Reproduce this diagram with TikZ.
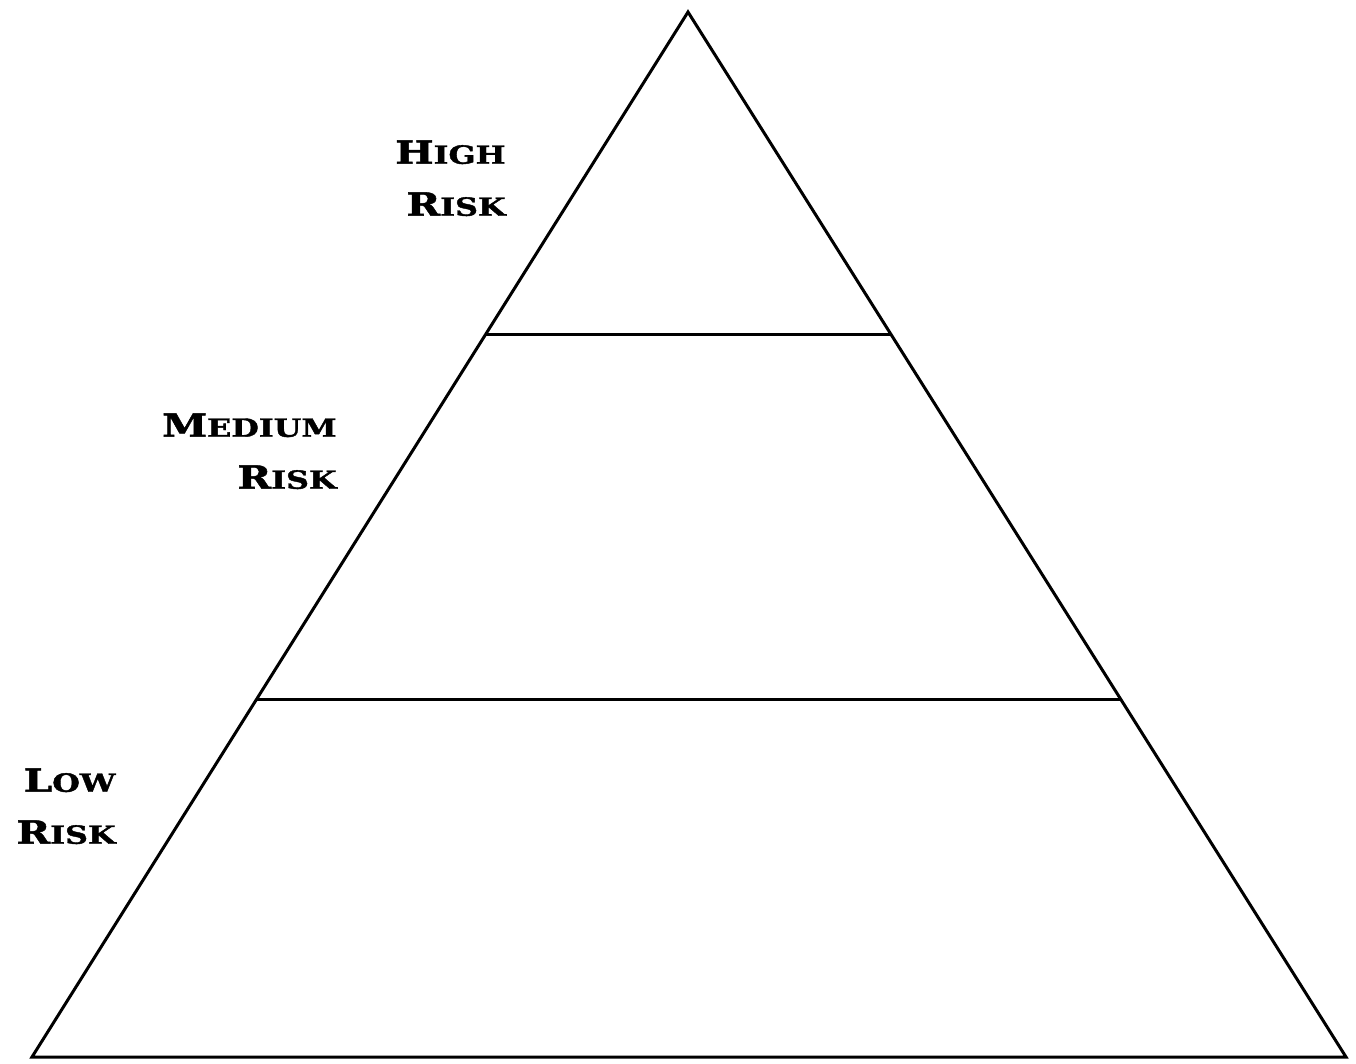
\documentclass[tikz,border=0pt]{standalone}
\usepackage{fontspec}
\usetikzlibrary{calc}
\newfontfamily\riskfont{DejaVu Serif}[FakeStretch=1.27, BoldFeatures={FakeBold=1.6}]
\newcommand{\capword}[2]{{\fontsize{16}{26}\selectfont #1}{\fontsize{12.5}{26}\selectfont #2}}
\tikzset{
  tier/.style={line width=1.5pt},
  risklabel/.style={font=\riskfont\bfseries\fontsize{16}{26}\selectfont, align=right, anchor=north east, inner sep=0pt}
}
\begin{document}
\begin{tikzpicture}[x=0.5pt,y=-0.5pt]

% Frame
\useasboundingbox (0,0) rectangle (1356,1064);

% Pyramid
\coordinate (apex) at (688,12);
\coordinate (bl) at (32,1057);
\coordinate (br) at (1346,1057);
\draw[tier] (apex) -- (bl) -- (br) -- cycle;

% Tier borders
\draw[tier] ($(apex)!0.309!(bl)$) -- ($(apex)!0.309!(br)$);
\draw[tier] ($(apex)!0.658!(bl)$) -- ($(apex)!0.658!(br)$);

% Labels
\node[risklabel] (high) at (506,140) {\capword{H}{IGH}\\\capword{R}{ISK}};
\node[risklabel] (medium) at (337,413) {\capword{M}{EDIUM}\\\capword{R}{ISK}};
\node[risklabel] (low) at (116,768) {\capword{L}{OW}\\\capword{R}{ISK}};

\end{tikzpicture}
\end{document}
